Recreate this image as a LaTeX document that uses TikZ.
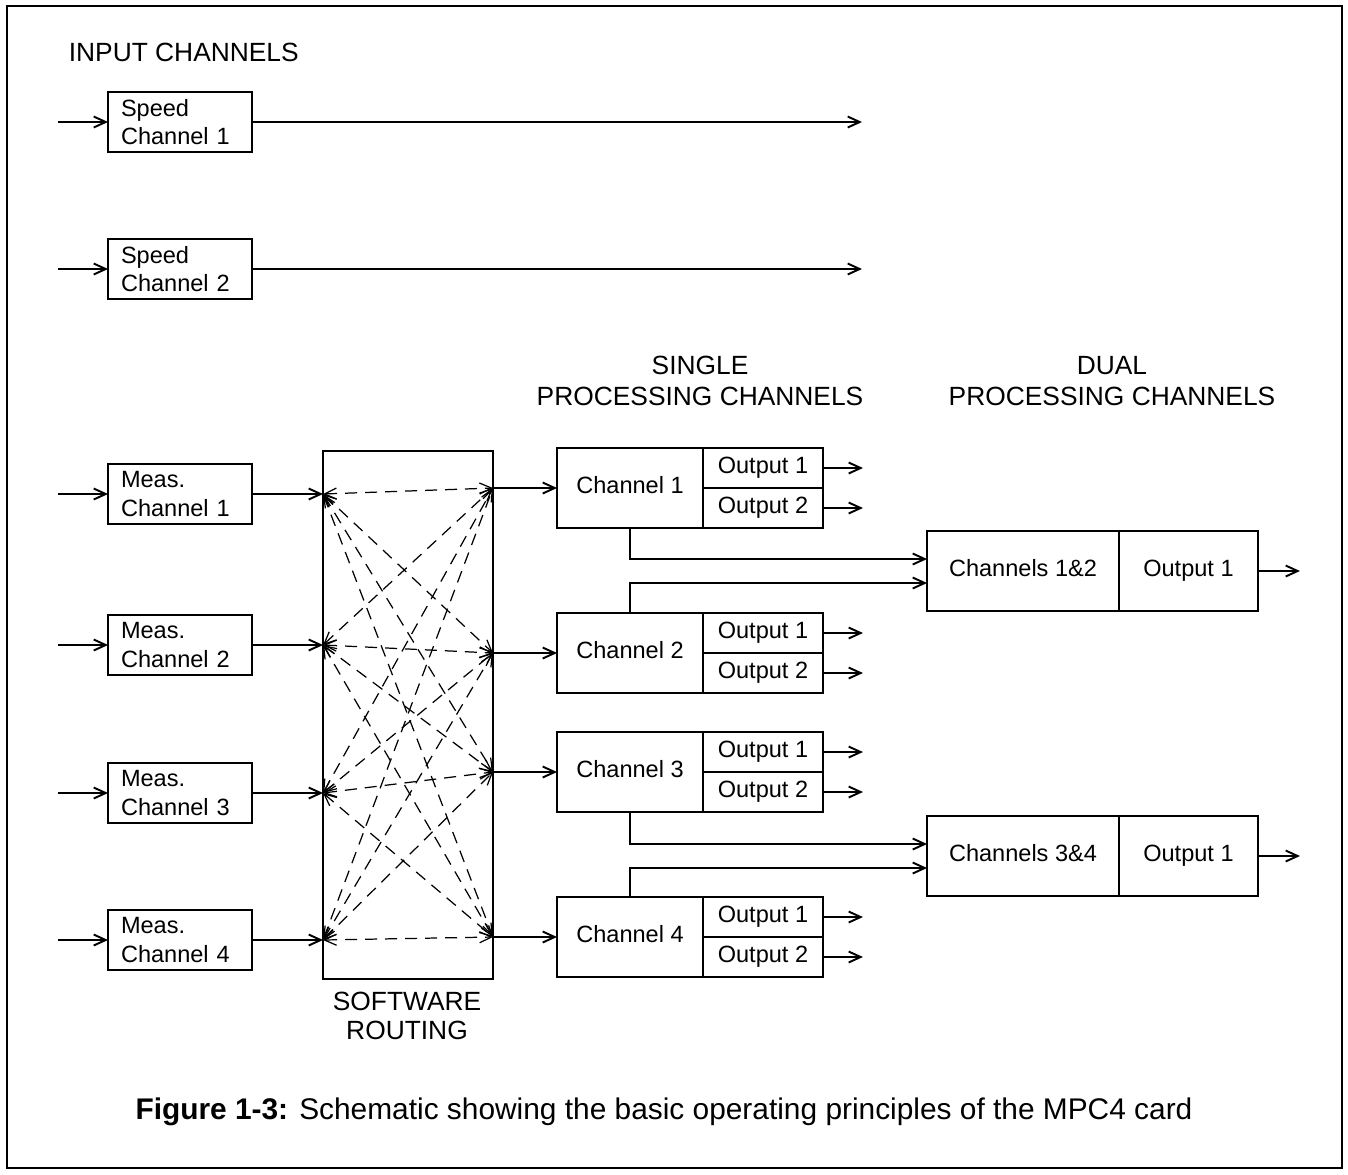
\documentclass[tikz,border=0pt]{standalone}
\usepackage{fontspec}
\setmainfont{Liberation Sans}
\usetikzlibrary{arrows.meta,positioning,calc}

\begin{document}
\begin{tikzpicture}[x=0.02cm,y=-0.02cm,line width=1.1pt,
    >={Straight Barb[length=2.4mm,width=2.2mm]},
    every node/.style={font=\fontsize{13.4}{16.4}\selectfont,outer sep=0pt},
    head/.style={font=\fontsize{15}{17.6}\selectfont,align=center},
    inbox/.style={draw,align=left,text width=2.36cm,inner xsep=0.26cm,inner ysep=0pt,minimum height=1.2cm},
    cell/.style={draw,inner sep=0pt,text height=9.6pt,text depth=2.8pt},
    chbox/.style={cell,minimum width=2.92cm,minimum height=1.6cm},
    outbox/.style={cell,minimum width=2.4cm,minimum height=0.8cm,anchor=north west},
    dubox/.style={cell,minimum width=3.84cm,minimum height=1.6cm},
    duout/.style={cell,minimum width=2.78cm,minimum height=1.6cm,anchor=north west},
    route/.style={line width=0.7pt,dash pattern=on 2.4mm off 1.6mm,<->}]

    \useasboundingbox (0,0) rectangle (1348,1174);
    \draw (7,6) rectangle (1342,1168);

    % input side
    \node[head,anchor=west] (hin) at (63,52) {INPUT CHANNELS};
    \node[inbox] (sp1) at (180,122) {Speed\\Channel 1};
    \node[inbox] (sp2) at (180,269) {Speed\\Channel 2};
    \node[inbox] (ms1) at (180,494) {Meas.\\Channel 1};
    \node[inbox] (ms2) at (180,645) {Meas.\\Channel 2};
    \node[inbox] (ms3) at (180,793) {Meas.\\Channel 3};
    \node[inbox] (ms4) at (180,940) {Meas.\\Channel 4};
    \foreach \n in {sp1,sp2,ms1,ms2,ms3,ms4} {
        \coordinate (in\n) at ($(\n.west)+(-50,0)$);
        \draw[->] (in\n) -- (\n.west);
    }
    \coordinate (spe1) at (862,122);
    \coordinate (spe2) at (862,269);
    \draw[->] (sp1.east) -- (spe1);
    \draw[->] (sp2.east) -- (spe2);

    % software routing
    \node[draw,minimum width=3.4cm,minimum height=10.56cm] (sw) at (408,715) {};
    \node[head,font=\fontsize{15}{16.4}\selectfont] (hsw) at (407,1016) {SOFTWARE\\ROUTING};
    \coordinate (l1) at (sw.west |- ms1);
    \coordinate (l2) at (sw.west |- ms2);
    \coordinate (l3) at (sw.west |- ms3);
    \coordinate (l4) at (sw.west |- ms4);
    \coordinate (r1) at (493,488);
    \coordinate (r2) at (493,653);
    \coordinate (r3) at (493,772);
    \coordinate (r4) at (493,937);
    \foreach \i in {1,...,4} {
        \draw[->] (ms\i.east) -- (l\i);
        \foreach \j in {1,...,4}
            \draw[route] (l\i) -- (r\j);
    }

    % single processing channels
    \node[head] (hsp) at (700,381) {SINGLE\\PROCESSING CHANNELS};
    \node[chbox] (ch1) at (630,488) {Channel 1};
    \node[chbox] (ch2) at (630,653) {Channel 2};
    \node[chbox] (ch3) at (630,772) {Channel 3};
    \node[chbox] (ch4) at (630,937) {Channel 4};
    \foreach \i in {1,...,4} {
        \node[outbox] (o\i1) at (ch\i.north east) {Output 1};
        \node[outbox] (o\i2) at (o\i1.south west) {Output 2};
        \draw[->] (r\i) -- (ch\i.west);
        \foreach \k in {1,2} {
            \coordinate (oe\i\k) at ($(o\i\k.east)+(40,0)$);
            \draw[->] (o\i\k.east) -- (oe\i\k);
        }
    }

    % dual processing channels
    \node[head] (hdp) at (1112,381) {DUAL\\PROCESSING CHANNELS};
    \node[dubox] (du1) at (1023,571) {Channels 1\&2};
    \node[duout] (do1) at (du1.north east) {Output 1};
    \node[dubox] (du2) at (1023,856) {Channels 3\&4};
    \node[duout] (do2) at (du2.north east) {Output 1};
    \draw[->] (ch1.south) |- ($(du1.west)+(0,-12)$);
    \draw[->] (ch2.north) |- ($(du1.west)+(0,12)$);
    \draw[->] (ch3.south) |- ($(du2.west)+(0,-12)$);
    \draw[->] (ch4.north) |- ($(du2.west)+(0,12)$);
    \coordinate (de1) at ($(do1.east)+(42,0)$);
    \coordinate (de2) at ($(do2.east)+(42,0)$);
    \draw[->] (do1.east) -- (de1);
    \draw[->] (do2.east) -- (de2);

    \node[head,font=\fontsize{17}{20}\selectfont] (cap) at (664,1112) {\textbf{Figure 1-3:} Schematic showing the basic operating principles of the MPC4 card};
\end{tikzpicture}
\end{document}
